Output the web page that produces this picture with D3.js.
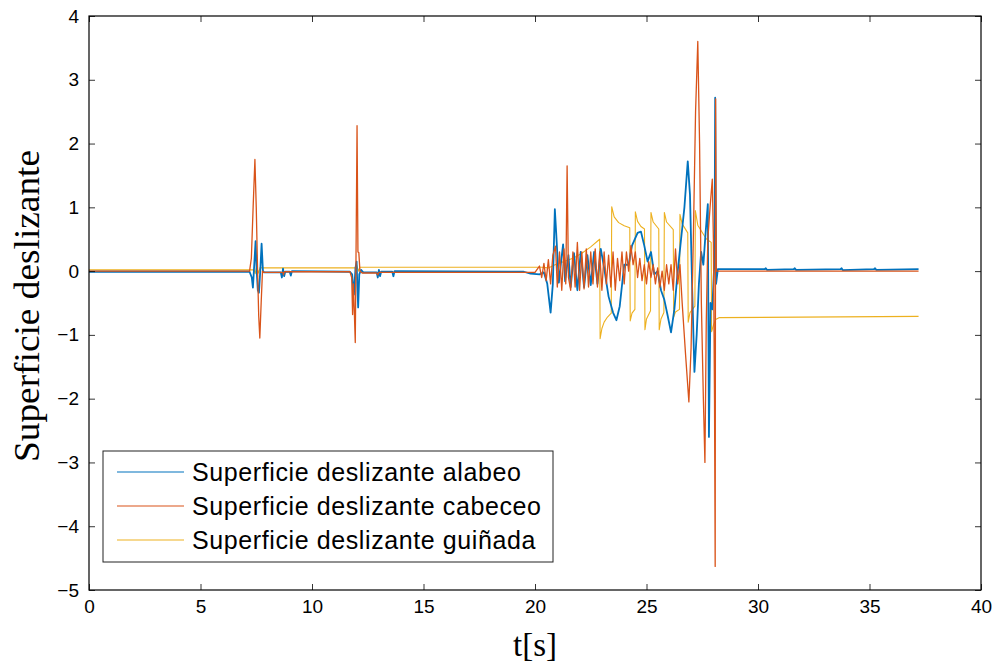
<!DOCTYPE html>
<html>
<head>
<meta charset="utf-8">
<script src="https://cdn.jsdelivr.net/npm/d3@7"></script>
<style>
  body { margin: 0; background: #fff; }
  svg { display: block; }
</style>
</head>
<body>
<div class="chart_wrapper"></div>
<script>

// series as [t, value]
const alabeo = [
  [0,-0.01],[7.2,-0.01],[7.3,-0.1],[7.35,-0.26],[7.41,0.1],[7.47,0.47],[7.52,0.0],[7.57,-0.3],[7.62,-0.34],
  [7.68,0.0],[7.74,0.43],[7.8,0.0],[7.85,-0.02],[8.6,-0.02],[8.65,-0.1],[8.7,0.04],[8.75,-0.08],[8.8,-0.01],
  [9.0,-0.01],[9.05,-0.07],[9.1,0.0],[11.7,-0.01],[11.8,-0.05],[11.88,-0.37],[11.95,0.05],[12.0,0.15],
  [12.03,-0.2],[12.07,-0.57],[12.12,-0.05],[12.2,0.02],[12.3,-0.02],[12.9,-0.02],[12.95,-0.1],[13.0,0.02],
  [13.05,-0.08],[13.1,-0.01],[13.6,-0.01],[13.65,-0.08],[13.7,0.0],[19.5,-0.01],[19.8,-0.04],[20.2,-0.05],
  [20.4,-0.02],[20.55,-0.2],[20.7,-0.65],[20.8,-0.2],[20.89,0.97],[20.95,0.6],[21.07,-0.18],[21.17,0.15],
  [21.26,0.42],[21.35,-0.16],[21.5,0.25],[21.6,-0.25],[21.75,0.28],[21.9,-0.3],[22.05,0.3],[22.2,-0.25],
  [22.35,0.25],[22.5,-0.22],[22.65,0.3],[22.8,-0.2],[22.95,0.35],[23.1,0.05],[23.3,-0.4],[23.5,-0.65],
  [23.65,-0.77],[23.8,-0.55],[24.0,0.1],[24.2,0.1],[24.35,0.4],[24.6,0.6],[24.75,0.62],[24.9,0.4],
  [25.05,0.15],[25.2,0.3],[25.35,-0.05],[25.5,0.0],[25.65,-0.3],[25.8,-0.45],[25.95,-0.7],[26.1,-0.96],
  [26.25,-0.6],[26.4,0.0],[26.55,0.5],[26.7,1.0],[26.85,1.72],[26.95,1.2],[27.05,-0.3],[27.15,-1.58],
  [27.25,-1.0],[27.35,-0.2],[27.45,0.3],[27.55,0.1],[27.65,0.6],[27.75,1.05],[27.8,-2.6],[27.87,-0.5],
  [27.95,-0.6],[28.05,0.2],[28.08,2.72],[28.12,-0.2],[28.2,0.03],[30.3,0.03],[30.35,0.045],[30.4,0.02],
  [31.6,0.03],[31.65,0.045],[31.7,0.02],[33.7,0.03],[33.75,0.045],[33.8,0.015],[35.2,0.03],[35.25,0.045],
  [35.3,0.02],[37.2,0.03]
]

const cabeceo = [
  [0,0.0],[7.2,0.0],[7.28,0.2],[7.36,1.0],[7.44,1.75],[7.5,1.0],[7.56,0.0],[7.61,-0.7],[7.66,-1.05],
  [7.72,-0.5],[7.78,0.0],[7.85,-0.02],[8.7,-0.02],[8.72,-0.06],[8.76,-0.01],[11.7,-0.01],[11.78,-0.1],
  [11.82,-0.68],[11.86,-0.2],[11.94,-1.12],[11.98,0.5],[12.02,2.28],[12.06,0.3],[12.1,0.29],[12.15,0.0],
  [12.25,-0.03],[12.9,-0.03],[12.95,-0.06],[13.0,-0.02],[20.0,-0.02],[20.2,0.08],[20.3,-0.1],[20.4,0.12],
  [20.5,-0.15],[20.6,0.18],[20.7,-0.2],[20.8,0.25],[20.92,0.39],[21.0,-0.25],[21.1,0.3],[21.2,-0.3],
  [21.3,0.35],[21.38,-0.2],[21.44,1.65],[21.5,-0.1],[21.6,-0.3],[21.7,0.3],[21.8,-0.25],[21.9,0.45],
  [22.0,-0.3],[22.1,0.3],[22.2,-0.28],[22.3,0.35],[22.4,-0.25],[22.5,0.3],[22.6,-0.2],[22.7,0.35],
  [22.8,-0.25],[22.9,0.3],[23.0,-0.3],[23.1,0.3],[23.2,-0.2],[23.3,0.25],[23.4,-0.25],[23.5,0.3],
  [23.6,-0.3],[23.7,0.2],[23.8,-0.15],[23.9,0.3],[24.0,-0.2],[24.1,0.3],[24.2,0.0],[24.3,0.4],[24.4,0.1],
  [24.5,0.3],[24.6,-0.1],[24.7,0.2],[24.8,-0.15],[24.9,0.1],[25.0,-0.2],[25.1,0.15],[25.2,-0.1],[25.3,0.1],
  [25.4,-0.2],[25.5,0.05],[25.6,-0.25],[25.7,0.0],[25.8,-0.3],[25.9,0.1],[26.0,-0.2],[26.1,0.1],[26.2,-0.3],
  [26.3,0.35],[26.4,-0.2],[26.5,0.1],[26.6,-0.5],[26.75,-1.3],[26.9,-2.05],[27.0,-1.2],[27.1,0.5],
  [27.2,2.5],[27.3,3.6],[27.38,2.0],[27.46,-0.5],[27.55,-2.0],[27.62,-3.0],[27.68,-0.8],[27.75,0.5],
  [27.85,1.0],[27.95,1.44],[28.0,0.5],[28.05,-2.0],[28.08,-4.63],[28.1,2.7],[28.13,0.0],[28.2,0.0],[37.2,0.0]
]

const guinada = [
  [0,0.02],[7.4,0.02],[7.45,-0.04],[7.52,0.07],[7.6,-0.03],[7.68,0.06],[7.75,0.05],[11.95,0.05],[12.0,0.1],
  [12.08,0.0],[12.15,0.06],[20.3,0.06],[20.6,0.05],[20.9,0.1],[21.3,0.15],[21.7,0.2],[22.1,0.28],[22.5,0.38],
  [22.9,0.5],[22.92,-1.06],[23.0,-0.9],[23.1,-0.8],[23.25,-0.72],[23.42,-0.66],[23.44,1.01],[23.55,0.85],
  [23.75,0.76],[24.0,0.71],[24.25,0.68],[24.27,-0.78],[24.35,-0.66],[24.48,-0.6],[24.5,0.93],[24.6,0.78],
  [24.75,0.7],[24.91,0.66],[24.93,-0.92],[25.0,-0.75],[25.18,-0.62],[25.2,0.92],[25.3,0.77],[25.55,0.66],
  [25.57,-0.92],[25.65,-0.75],[25.78,-0.65],[25.8,0.92],[25.9,0.77],[26.2,0.65],[26.22,-0.72],[26.3,-0.64],
  [26.48,-0.6],[26.5,0.89],[26.6,0.74],[26.85,0.6],[26.87,-0.8],[26.95,-0.65],[27.17,-0.55],[27.19,0.95],
  [27.3,0.72],[27.6,0.55],[27.7,0.5],[27.9,0.45],[27.92,-0.95],[28.0,-0.85],[28.1,-0.76],[28.25,-0.73],
  [37.2,-0.71]
]

const seriesNames = ["Superficie deslizante alabeo", "Superficie deslizante cabeceo", "Superficie deslizante guiñada"]
const seriesColors = ["#0072BD", "#D95319", "#EDB120"]
const xTicks = [0, 5, 10, 15, 20, 25, 30, 35, 40]
const yTicks = [-5, -4, -3, -2, -1, 0, 1, 2, 3, 4]


let dimensions = {
    width: 1002,
    height: 670,
    margin: {
        top: 16,
        right: 21,
        bottom: 80,
        left: 89,},
    }

dimensions.boundedWidth = dimensions.width - dimensions.margin.left - dimensions.margin.right
dimensions.boundedHeight = dimensions.height - dimensions.margin.top - dimensions.margin.bottom

const wrapper = d3.select(".chart_wrapper")
    .append("svg")
    .attr("width", dimensions.width)
    .attr("height", dimensions.height)

const bounds = wrapper.append("g")
    .attr("transform", `translate(${dimensions.margin.left},${dimensions.margin.top})`)

const xScale = d3.scaleLinear()
    .domain([0, 40])
    .range([0, dimensions.boundedWidth])

const yScale = d3.scaleLinear()
    .domain([-5, 4])
    .range([dimensions.boundedHeight, 0])

const fmt = d => d < 0 ? "\u2212" + Math.abs(d) : String(d)

// axes, matlab style: ticks inside on all four sides
const xAxis = d3.axisBottom(xScale).tickValues(xTicks).tickSizeInner(-6).tickSizeOuter(0).tickPadding(10).tickFormat(fmt)
const xAxisTop = d3.axisTop(xScale).tickValues(xTicks).tickSizeInner(-6).tickSizeOuter(0).tickFormat("")
const yAxis = d3.axisLeft(yScale).tickValues(yTicks).tickSizeInner(-6).tickSizeOuter(0).tickPadding(10).tickFormat(fmt)
const yAxisRight = d3.axisRight(yScale).tickValues(yTicks).tickSizeInner(-6).tickSizeOuter(0).tickFormat("")

// lines
const lineGen = d3.line()
    .x(d => xScale(d[0]))
    .y(d => yScale(d[1]))

const allSeries = [alabeo, cabeceo, guinada]

// draw yellow first, then blue, then orange on top like the picture
const order = [2, 0, 1]
order.forEach(i => {
  bounds.append("path")
      .datum(allSeries[i])
      .attr("d", lineGen)
      .attr("fill", "none")
      .attr("stroke", seriesColors[i])
      .attr("stroke-width", i == 0 ? 1.8 : (i == 1 ? 1.3 : 1.1))
      .attr("stroke-linejoin", "round")
})

const styleAxis = g => {
  g.select(".domain").remove()
  g.selectAll("line").attr("stroke", "#000").attr("stroke-width", 0.8)
  g.selectAll("text")
      .attr("fill", "#000")
      .style("font-family", "'Liberation Sans', Arial, sans-serif")
      .style("font-size", "19px")
}

bounds.append("g")
    .attr("transform", `translate(0,${dimensions.boundedHeight})`)
    .call(xAxis).call(styleAxis)
bounds.append("g").call(xAxisTop).call(styleAxis)
bounds.append("g").call(yAxis).call(styleAxis)
bounds.append("g")
    .attr("transform", `translate(${dimensions.boundedWidth},0)`)
    .call(yAxisRight).call(styleAxis)

// box
bounds.append("rect")
    .attr("width", dimensions.boundedWidth)
    .attr("height", dimensions.boundedHeight)
    .attr("fill", "none")
    .attr("stroke", "#000")
    .attr("stroke-width", 1.2)

// axis labels
wrapper.append("text")
    .attr("x", dimensions.margin.left + xScale(20))
    .attr("y", 656)
    .attr("text-anchor", "middle")
    .style("font-family", "'Liberation Serif', 'DejaVu Serif', serif")
    .style("font-size", "33px")
    .text("t[s]")

wrapper.append("text")
    .attr("transform", `translate(39,306) rotate(-90)`)
    .attr("text-anchor", "middle")
    .attr("textLength", 312)
    .attr("lengthAdjust", "spacingAndGlyphs")
    .style("font-family", "'Liberation Serif', 'DejaVu Serif', serif")
    .style("font-size", "35px")
    .text("Superficie deslizante")

// legend
const legend = bounds.append("g")
    .attr("transform", `translate(${103 - dimensions.margin.left},${451 - dimensions.margin.top})`)

legend.append("rect")
    .attr("width", 450)
    .attr("height", 111)
    .attr("fill", "#fff")
    .attr("stroke", "#222")
    .attr("stroke-width", 1)

seriesNames.forEach((name, i) => {
  const yy = 21 + i * 34
  legend.append("line")
      .attr("x1", 14).attr("x2", 81)
      .attr("y1", yy).attr("y2", yy)
      .attr("stroke", seriesColors[i])
      .attr("stroke-width", 1.2)
  legend.append("text")
      .attr("x", 89)
      .attr("y", yy + 8.5)
      .style("font-family", "'Liberation Sans', Arial, sans-serif")
      .style("font-size", "25px")
      .style("letter-spacing", "0.6px")
      .text(name)
})

</script>
</body>
</html>
